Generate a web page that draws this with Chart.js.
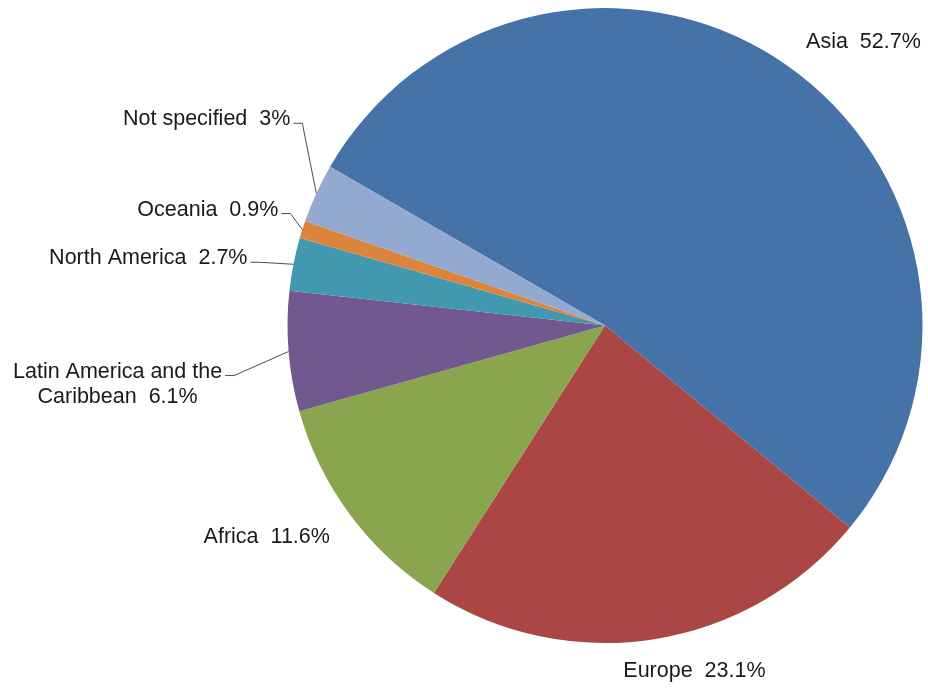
<!DOCTYPE html>
<html>
<head>
<meta charset="utf-8">
<style>
  html, body { margin: 0; padding: 0; background: #ffffff; }
  #wrap { width: 928px; height: 688px; }
</style>
<script src="https://cdn.jsdelivr.net/npm/chart.js@4/dist/chart.umd.min.js"></script>
</head>
<body>
<div id="wrap"><canvas id="pie" width="928" height="688"></canvas></div>
<script>
// Share of total by region (%)
const regions = ['Asia', 'Europe', 'Africa', 'Latin America and the Caribbean', 'North America', 'Oceania', 'Not specified'];
const shares = [52.7, 23.1, 11.6, 6.1, 2.7, 0.9, 3];
const sliceColors = ['#4572A7', '#AA4643', '#89A54E', '#71588F', '#4198AF', '#DB843D', '#93A9CF'];

// Label text lines per slice
const labelLines = regions.map((name, i) =>
  i === 3 ? ['Latin America and the', 'Caribbean  ' + shares[i] + '%'] : [name + '  ' + shares[i] + '%']
);

// Label placement relative to the slice's outer edge at its mid angle
const labelLayout = [
  { align: 'left',   dx: 20,   dy: -17, leader: false },
  { align: 'left',   dx: -31,  dy: 38,  leader: false },
  { align: 'right',  dx: -20,  dy: 28,  leader: false },
  { align: 'center', dx: -171, dy: 26,  leader: true },
  { align: 'right',  dx: -46,  dy: 0,   leader: true },
  { align: 'right',  dx: -24,  dy: -14, leader: true },
  { align: 'right',  dx: -26,  dy: -68, leader: true }
];

const FONT = '21.5px "Liberation Sans", Arial, sans-serif';
const LINE_H = 25;

const sliceLabels = {
  id: 'sliceLabels',
  afterDatasetsDraw(chart) {
    const ctx = chart.ctx;
    const arcs = chart.getDatasetMeta(0).data;
    ctx.save();
    ctx.font = FONT;
    ctx.textBaseline = 'alphabetic';
    arcs.forEach((arc, i) => {
      const p = arc.getProps(['x', 'y', 'startAngle', 'endAngle', 'outerRadius'], true);
      const mid = (p.startAngle + p.endAngle) / 2;
      const ex = p.x + Math.cos(mid) * p.outerRadius;
      const ey = p.y + Math.sin(mid) * p.outerRadius;
      const lay = labelLayout[i];
      const ax = ex + lay.dx;
      const ay = ey + lay.dy;
      const lines = labelLines[i];
      ctx.fillStyle = '#1a1a1a';
      ctx.textAlign = lay.align;
      lines.forEach((t, k) => ctx.fillText(t, ax, ay + k * LINE_H));
      if (lay.leader) {
        const w = ctx.measureText(lines[0]).width;
        let right;
        if (lay.align === 'center') right = ax + w / 2;
        else if (lay.align === 'right') right = ax;
        else right = ax + w;
        const sx = right + 3;
        const sy = ay - 2;
        ctx.strokeStyle = '#4d4d4d';
        ctx.lineWidth = 1;
        ctx.beginPath();
        ctx.moveTo(sx, sy);
        ctx.lineTo(sx + 9, sy);
        ctx.lineTo(ex, ey);
        ctx.stroke();
      }
    });
    ctx.restore();
  }
};

new Chart(document.getElementById('pie'), {
  type: 'pie',
  data: {
    labels: regions,
    datasets: [{
      data: shares,
      backgroundColor: sliceColors,
      borderWidth: 0
    }]
  },
  options: {
    responsive: false,
    animation: false,
    rotation: 300,
    layout: { padding: { left: 287, right: 5, top: 8, bottom: 45 } },
    plugins: {
      legend: { display: false },
      tooltip: { enabled: false }
    }
  },
  plugins: [sliceLabels]
});
</script>
</body>
</html>
